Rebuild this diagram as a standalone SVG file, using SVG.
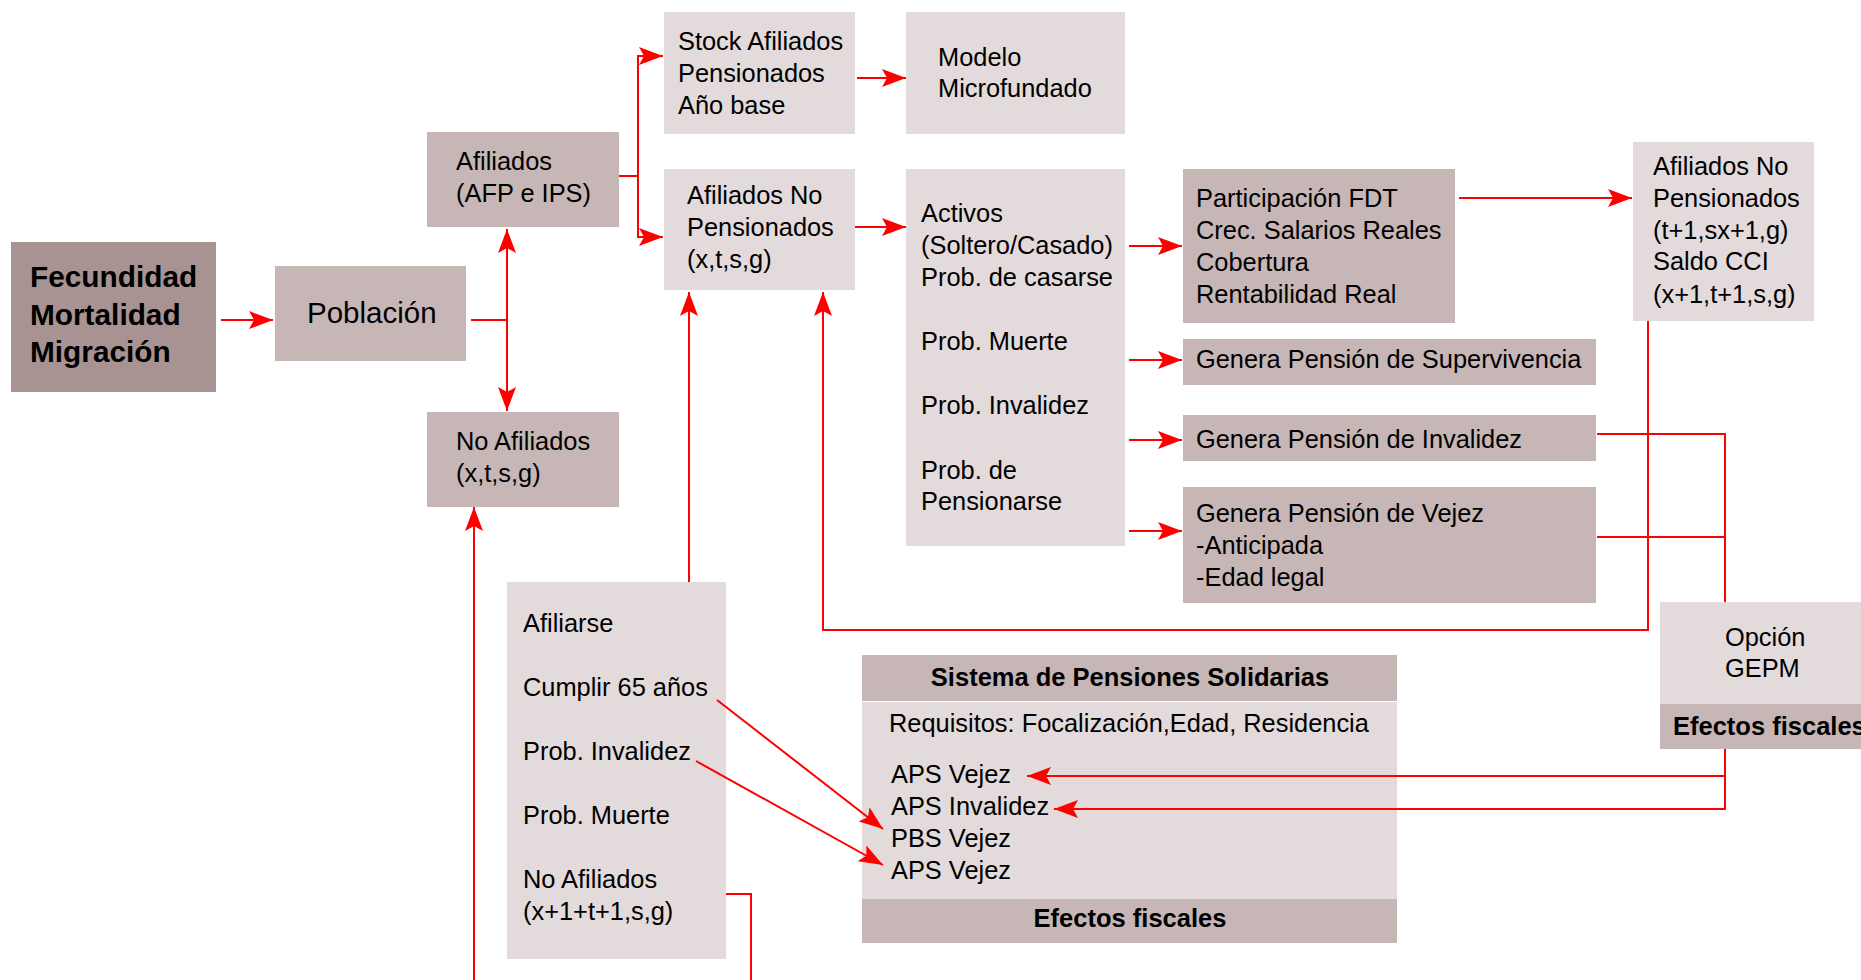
<svg xmlns="http://www.w3.org/2000/svg" width="1861" height="980" viewBox="0 0 1861 980">
<style>
.dk{fill:#A89292}
.md{fill:#C6B6B6}
.lt{fill:#E2DADB}
text{font-family:"Liberation Sans",Arial,Helvetica,sans-serif;font-size:25.4px;fill:#000}
.b{font-weight:bold}
.c{text-anchor:middle}
.cn path{fill:none;stroke:#FF0000;stroke-width:2}
.ar{marker-end:url(#ah)}
</style>
<defs>
<marker id="ah" markerUnits="userSpaceOnUse" viewBox="0 0 24 18" markerWidth="24" markerHeight="18" refX="24" refY="9" orient="auto">
<path d="M0,0 L24,9 L0,18 L5,9 Z" fill="#FF0000"/>
</marker>
</defs>
<rect width="1861" height="980" fill="#FFFFFF"/>

<g id="fecundidad">
<rect class="dk" x="11" y="242" width="205" height="150"/>
<text class="b" x="30" y="287" style="font-size:29.8px">Fecundidad</text>
<text class="b" x="30" y="325" style="font-size:29.8px">Mortalidad</text>
<text class="b" x="30" y="362" style="font-size:29.8px">Migración</text>
</g>

<g id="poblacion">
<rect class="md" x="275" y="266" width="191" height="95"/>
<text x="307" y="323" style="font-size:29.5px">Población</text>
</g>

<g id="afiliados">
<rect class="md" x="427" y="132" width="192" height="95"/>
<text x="456" y="170">Afiliados</text>
<text x="456" y="202">(AFP e IPS)</text>
</g>

<g id="no-afiliados">
<rect class="md" x="427" y="412" width="192" height="95"/>
<text x="456" y="450">No Afiliados</text>
<text x="456" y="482">(x,t,s,g)</text>
</g>

<g id="stock">
<rect class="lt" x="664" y="12" width="191" height="122"/>
<text x="678" y="50">Stock Afiliados</text>
<text x="678" y="82">Pensionados</text>
<text x="678" y="114">Año base</text>
</g>

<g id="modelo">
<rect class="lt" x="906" y="12" width="219" height="122"/>
<text x="938" y="66">Modelo</text>
<text x="938" y="97">Microfundado</text>
</g>

<g id="afiliados-no-pensionados">
<rect class="lt" x="664" y="169" width="191" height="121"/>
<text x="687" y="204">Afiliados No</text>
<text x="687" y="236">Pensionados</text>
<text x="687" y="268">(x,t,s,g)</text>
</g>

<g id="activos">
<rect class="lt" x="906" y="169" width="219" height="377"/>
<text x="921" y="222">Activos</text>
<text x="921" y="254">(Soltero/Casado)</text>
<text x="921" y="286">Prob. de casarse</text>
<text x="921" y="350">Prob. Muerte</text>
<text x="921" y="414">Prob. Invalidez</text>
<text x="921" y="479">Prob. de</text>
<text x="921" y="510">Pensionarse</text>
</g>

<g id="participacion">
<rect class="md" x="1183" y="169" width="272" height="154"/>
<text x="1196" y="207">Participación FDT</text>
<text x="1196" y="239">Crec. Salarios Reales</text>
<text x="1196" y="271">Cobertura</text>
<text x="1196" y="303">Rentabilidad Real</text>
</g>

<g id="supervivencia">
<rect class="md" x="1183" y="339" width="413" height="46"/>
<text x="1196" y="368">Genera Pensión de Supervivencia</text>
</g>

<g id="invalidez">
<rect class="md" x="1183" y="415" width="413" height="46"/>
<text x="1196" y="448">Genera Pensión de Invalidez</text>
</g>

<g id="vejez">
<rect class="md" x="1183" y="487" width="413" height="116"/>
<text x="1196" y="522">Genera Pensión de Vejez</text>
<text x="1196" y="554">-Anticipada</text>
<text x="1196" y="586">-Edad legal</text>
</g>

<g id="afiliados-no-pensionados-t1">
<rect class="lt" x="1633" y="142" width="181" height="179"/>
<text x="1653" y="175">Afiliados No</text>
<text x="1653" y="207">Pensionados</text>
<text x="1653" y="239">(t+1,sx+1,g)</text>
<text x="1653" y="270">Saldo CCI</text>
<text x="1653" y="303">(x+1,t+1,s,g)</text>
</g>

<g id="opcion-gepm">
<rect class="lt" x="1660" y="602" width="210" height="102"/>
<rect class="md" x="1660" y="704" width="210" height="45"/>
<text x="1725" y="646">Opción</text>
<text x="1725" y="677">GEPM</text>
<text class="b" x="1673" y="735" style="font-size:25.5px">Efectos fiscales</text>
</g>

<g id="sistema-pensiones-solidarias">
<rect class="md" x="862" y="655" width="535" height="46"/>
<rect class="lt" x="862" y="702" width="535" height="197"/>
<rect class="md" x="862" y="899" width="535" height="44"/>
<text class="b c" x="1130" y="686" style="font-size:25.5px">Sistema de Pensiones Solidarias</text>
<text x="889" y="732">Requisitos: Focalización,Edad, Residencia</text>
<text x="891" y="783">APS Vejez</text>
<text x="891" y="815">APS Invalidez</text>
<text x="891" y="847">PBS Vejez</text>
<text x="891" y="879">APS Vejez</text>
<text class="b c" x="1130" y="927" style="font-size:25.5px">Efectos fiscales</text>
</g>

<g id="transiciones">
<rect class="lt" x="507" y="582" width="219" height="377"/>
<text x="523" y="632">Afiliarse</text>
<text x="523" y="696">Cumplir 65 años</text>
<text x="523" y="760">Prob. Invalidez</text>
<text x="523" y="824">Prob. Muerte</text>
<text x="523" y="888">No Afiliados</text>
<text x="523" y="920">(x+1+t+1,s,g)</text>
</g>

<g id="connectors" class="cn">
<path class="ar" d="M221,320 H273"/>
<path d="M471,320 H507"/>
<path class="ar" d="M507,320 V229"/>
<path class="ar" d="M507,320 V411"/>
<path d="M619,176 H638"/>
<path class="ar" d="M638,176 V56 H663"/>
<path class="ar" d="M638,176 V237 H663"/>
<path class="ar" d="M857,78 H906"/>
<path class="ar" d="M855,227 H906"/>
<path class="ar" d="M1129,246 H1182"/>
<path class="ar" d="M1129,360 H1182"/>
<path class="ar" d="M1129,440 H1182"/>
<path class="ar" d="M1129,531 H1182"/>
<path class="ar" d="M1459,198 H1632"/>
<path class="ar" d="M1648,321 V630 H823 V292"/>
<path class="ar" d="M689,582 V292"/>
<path d="M1597,434 H1725 V602"/>
<path d="M1597,537 H1725"/>
<path class="ar" d="M1725,749 V809 H1054"/>
<path class="ar" d="M1725,776 H1027"/>
<path class="ar" d="M717,700 L883,829"/>
<path class="ar" d="M696,761 L883,865"/>
<path d="M726,894 H751 V980"/>
<path class="ar" d="M474,980 V507"/>
</g>
</svg>
